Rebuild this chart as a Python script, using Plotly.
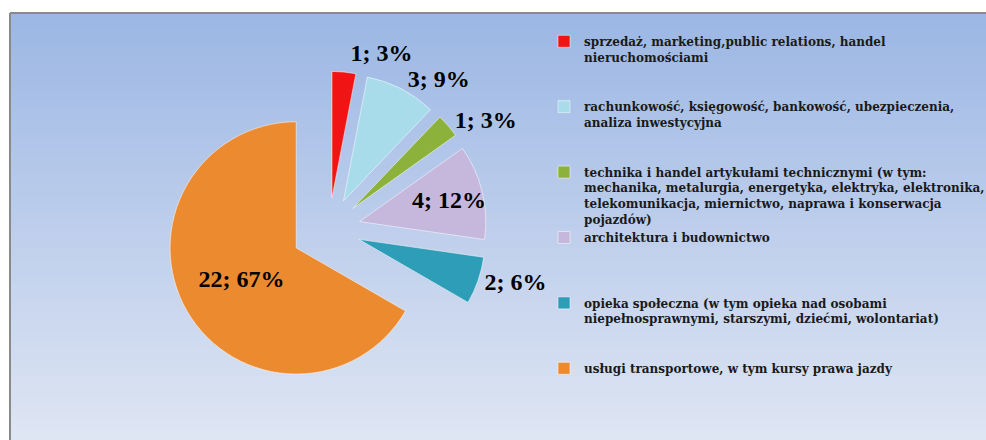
import textwrap
import plotly.graph_objects as go

# ---- data ----
categories = [
    "sprzedaż, marketing,public relations, handel nieruchomościami",
    "rachunkowość, księgowość, bankowość, ubezpieczenia, analiza inwestycyjna",
    "technika i handel artykułami technicznymi (w tym: mechanika, metalurgia, energetyka, elektryka, elektronika, telekomunikacja, miernictwo, naprawa i konserwacja pojazdów)",
    "architektura i budownictwo",
    "opieka społeczna (w tym opieka nad osobami niepełnosprawnymi, starszymi, dziećmi, wolontariat)",
    "usługi transportowe, w tym kursy prawa jazdy",
]
values = [1, 3, 1, 4, 2, 22]

# ---- styles ----
colors = ["#F01414", "#A9DCEA", "#8CB23C", "#C6B7DC", "#2E9DB8", "#EC8A30"]
pulls = [0.25, 0.25, 0.25, 0.25, 0.25, 0.3]
textpos = ["outside", "outside", "outside", "inside", "outside", "inside"]
# blank lines appended so legend entries are spread like the original
pad_lines = [2, 2, 0, 3, 2, 0]

W, H = 986, 440

legend_labels = []
for cat, pad in zip(categories, pad_lines):
    lines = textwrap.wrap(cat, width=58)
    legend_labels.append("<br>".join(lines + [" "] * pad))

fig = go.Figure()
fig.add_trace(go.Pie(
    labels=legend_labels,
    values=values,
    sort=False,
    direction="clockwise",
    rotation=0,
    pull=pulls,
    marker=dict(colors=colors, line=dict(color="rgba(255,255,255,0.5)", width=1)),
    texttemplate="%{value}; %{percent:.0%}",
    textposition=textpos,
    insidetextorientation="horizontal",
    textfont=dict(family="Liberation Serif", size=24, color="black", weight="bold"),
    domain=dict(x=[165 / W, 493 / W], y=[47 / H, 375 / H]),
    hoverinfo="label+value+percent",
))

# gradient background inside frame
shapes = []
top = (156, 183, 228)
bot = (222, 229, 243)
x0, y_top, y_bot = 10 / W, (H - 13) / H, 0
n = 60
step = (y_top - y_bot) / n
for i in range(n):
    t = i / (n - 1)
    c = tuple(round(top[k] + (bot[k] - top[k]) * t) for k in range(3))
    ya = y_top - step * i
    yb = max(y_bot, y_top - step * (i + 1) - 0.004)
    shapes.append(dict(type="rect", xref="paper", yref="paper", x0=x0, x1=1.01, y0=yb, y1=ya,
                       fillcolor="rgb(%d,%d,%d)" % c, line=dict(width=0), layer="below"))
# frame border
shapes.append(dict(type="line", xref="paper", yref="paper", x0=x0, x1=1.01, y0=y_top, y1=y_top,
                   line=dict(color="#8a8a8a", width=2), layer="below"))
shapes.append(dict(type="line", xref="paper", yref="paper", x0=x0, x1=x0, y0=y_top, y1=0,
                   line=dict(color="#8a8a8a", width=2), layer="below"))

fig.update_layout(
    width=W, height=H,
    margin=dict(l=0, r=0, t=0, b=0, autoexpand=False),
    paper_bgcolor="white",
    plot_bgcolor="white",
    shapes=shapes,
    uniformtext=dict(minsize=24, mode="show"),
    showlegend=True,
    legend=dict(
        x=544 / W, xanchor="left",
        y=1 - 27 / H, yanchor="top",
        valign="top",
        bgcolor="rgba(0,0,0,0)",
        font=dict(family="DejaVu Serif", size=12, color="#1a1a1a", weight="bold"),
        traceorder="normal",
    ),
)

post = (
    "document.body.style.margin='0';document.body.style.overflow='hidden';"
    "var st=document.createElement('style');st.textContent='path.textline{display:none}';"
    "document.head.appendChild(st);"
)
fig.write_html("out.html", config={"displayModeBar": False}, post_script=post)
